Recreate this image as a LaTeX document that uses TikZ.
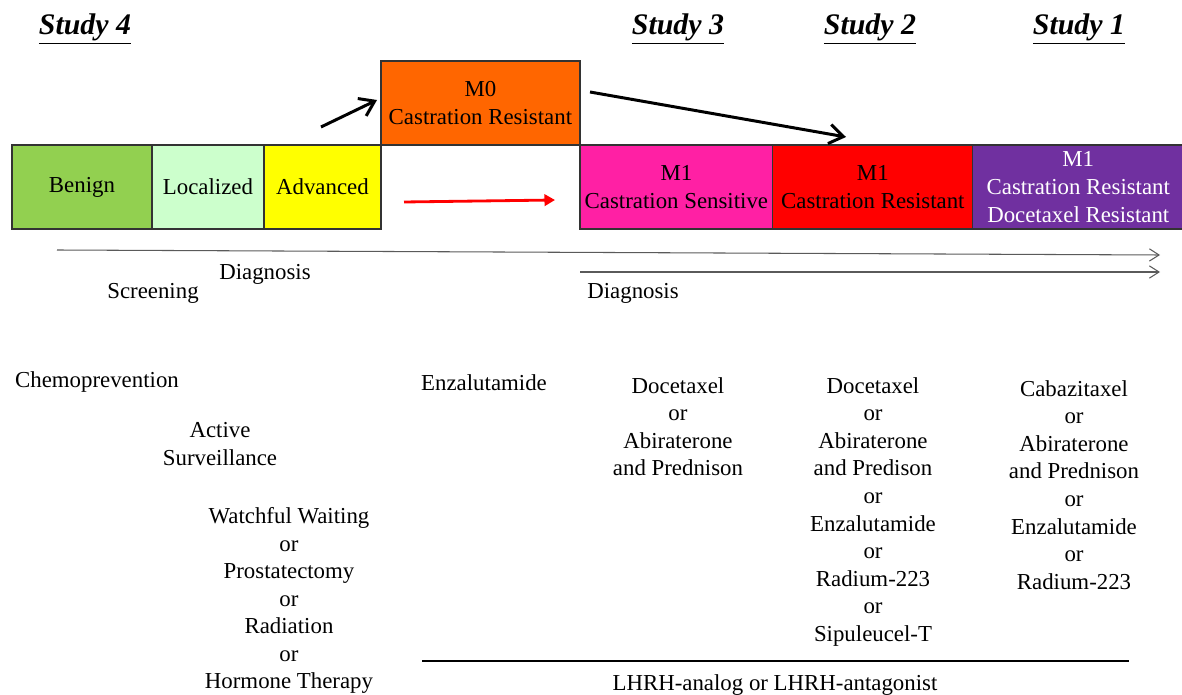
\documentclass[tikz,border=0pt]{standalone}
\usepackage{fontspec}
\setmainfont{Liberation Serif}
\usetikzlibrary{positioning,arrows.meta}
\definecolor{benigngreen}{RGB}{146,208,80}
\definecolor{localgreen}{RGB}{204,255,204}
\definecolor{advyellow}{RGB}{255,255,0}
\definecolor{m0orange}{RGB}{255,102,0}
\definecolor{m1pink}{RGB}{255,32,164}
\definecolor{m1red}{RGB}{255,0,0}
\definecolor{m1purple}{RGB}{112,48,160}
\definecolor{timegray}{RGB}{90,90,90}

\begin{document}
\begin{tikzpicture}[x=0.02cm, y=-0.02cm, node distance=0pt,
    stage/.style={rectangle, draw=black!80, line width=0.7pt, minimum height=1.68cm, inner sep=0pt, outer sep=0pt, align=center, font=\fontsize{13}{15.7}\selectfont},
    study/.style={inner sep=0pt, font=\fontsize{17}{20}\selectfont\bfseries\itshape},
    drug/.style={align=center, anchor=north, inner sep=0pt, font=\fontsize{13}{15.7}\selectfont},
    plaintext/.style={inner sep=0pt, font=\fontsize{13}{15.7}\selectfont},
    bigarrow/.style={-{Straight Barb[length=8pt,width=11pt]}, line width=1.7pt},
    timeline/.style={-{Straight Barb[length=5.5pt,width=7pt]}, timegray, line width=0.6pt}]
        \useasboundingbox (0,0) rectangle (1182,695);

        % Study titles
        \node[study] (study4) at (85,29) {\underline{Study 4}};
        \node[study] (study3) at (678,29) {\underline{Study 3}};
        \node[study] (study2) at (870,29) {\underline{Study 2}};
        \node[study] (study1) at (1079,29) {\underline{Study 1}};

        % Benign
        \node[stage, fill=benigngreen, minimum width=2.8cm, anchor=north west] (benign) at (12,145) {Benign};

        % Localized
        \node[stage, fill=localgreen, minimum width=2.24cm, right=of benign] (localized) {Localized};

        % Advanced
        \node[stage, fill=advyellow, minimum width=2.34cm, right=of localized] (advanced) {Advanced};

        % M0
        \node[stage, fill=m0orange, minimum width=3.98cm, above right=of advanced] (m0) {M0\\Castration Resistant};

        % M1 Sensitive
        \node[stage, fill=m1pink, minimum width=3.86cm, below right=of m0] (m1sens) {M1\\Castration Sensitive};

        % M1 Resistant
        \node[stage, fill=m1red, minimum width=4cm, right=of m1sens] (m1res) {M1\\Castration Resistant};

        % M1 Docetaxel Resistant
        \node[stage, fill=m1purple, text=white, minimum width=4.22cm, right=of m1res] (m1doc) {M1\\Castration Resistant\\Docetaxel Resistant};

        % Progression arrows
        \coordinate (advout) at (321,127);
        \coordinate (m0in) at (377,100);
        \coordinate (m0out) at (590,92);
        \coordinate (m1in) at (846,137);
        \coordinate (redout) at (404,202);
        \coordinate (redin) at (555,200);
        \draw[bigarrow] (advout) -- (m0in);
        \draw[bigarrow] (m0out) -- (m1in);
        \draw[-{Triangle[length=6pt,width=6.5pt]}, red, line width=1.6pt] (redout) -- (redin);

        % Timelines
        \coordinate (tlstart) at (57,250);
        \coordinate (tlend) at (1160,255);
        \coordinate (mtlstart) at (580,272);
        \coordinate (mtlend) at (1160,272);
        \draw[timeline] (tlstart) -- (tlend);
        \draw[timeline] (mtlstart) -- (mtlend);
        \node[plaintext] (diagnosis) at (265,274) {Diagnosis};
        \node[plaintext] (screening) at (153,293) {Screening};
        \node[plaintext, anchor=west] (mdiagnosis) at (587,293) {Diagnosis};

        % Treatments
        \node[plaintext] (chemo) at (97,382) {Chemoprevention};
        \node[drug] (surveil) at (220,422) {Active\\Surveillance};
        \node[drug] (localtx) at (289,507) {Watchful Waiting\\or\\Prostatectomy\\or\\Radiation\\or\\Hormone Therapy};
        \node[plaintext] (enza) at (484,383) {Enzalutamide};
        \node[drug] (senstx) at (678,377) {Docetaxel\\or\\Abiraterone\\and Prednison};
        \node[drug] (restx) at (873,377) {Docetaxel\\or\\Abiraterone\\and Predison\\or\\Enzalutamide\\or\\Radium-223\\or\\Sipuleucel-T};
        \node[drug] (doctx) at (1074,380) {Cabazitaxel\\or\\Abiraterone\\and Prednison\\or\\Enzalutamide\\or\\Radium-223};

        % Hormone backbone
        \coordinate (lhrhstart) at (422,661);
        \coordinate (lhrhend) at (1129,661);
        \draw[line width=0.8pt] (lhrhstart) -- (lhrhend);
        \node[plaintext] (lhrh) at (775,685) {LHRH-analog or LHRH-antagonist};
    \end{tikzpicture}
\end{document}
